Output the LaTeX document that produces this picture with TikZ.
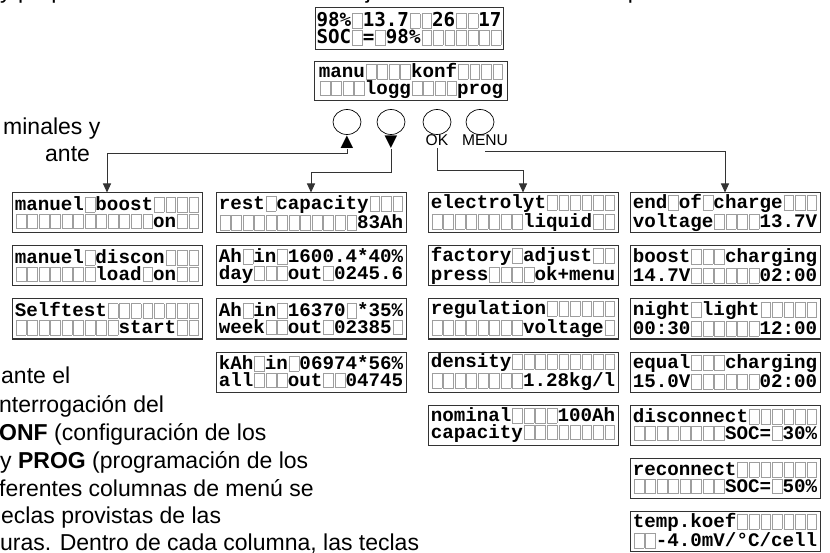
\documentclass[tikz,border=0pt]{standalone}
\usepackage{fontspec}
\setmainfont{Liberation Sans}
\newfontfamily\lcdfont{Liberation Mono}
\newfontfamily\lcdsans{DejaVu Sans Mono}
\newfontfamily\symfont{DejaVu Sans}
\usetikzlibrary{arrows.meta,shapes.geometric}

\definecolor{cellgray}{gray}{0.62}
\definecolor{framegray}{gray}{0.2}

% one empty cell of the display
\newcommand{\ec}{\rlap{\hspace{0.05em}\textcolor{cellgray}{\setlength{\fboxsep}{0pt}\setlength{\fboxrule}{0.6pt}\fbox{\rule[-0.06em]{0pt}{0.74em}\hspace{0.48em}}}}\phantom{0}}

\tikzset{
    lcd/.style={draw=framegray, line width=1pt, minimum width=190pt, minimum height=40pt,
        inner sep=1pt, align=left, font=\lcdfont\bfseries\fontsize{19.2}{16.5}\selectfont},
    button/.style={draw, ellipse, line width=0.7pt, minimum width=28pt, minimum height=25pt, inner sep=0pt},
    keysym/.style={anchor=base, inner sep=0pt, font=\symfont\fontsize{16.5}{16.5}\selectfont},
    keylabel/.style={anchor=base, inner sep=2pt, font=\fontsize{15.6}{16}\selectfont},
    arr/.style={-{Triangle[length=9pt,width=8pt]}, line width=1pt, black!80},
    body/.style={anchor=base west, inner sep=0pt, font=\fontsize{23}{27.7}\selectfont}
}

\begin{document}
\begin{tikzpicture}[x=1pt, y=-1pt]

    \useasboundingbox (0,0) rectangle (830,553);

    % Text around the picture
    \node[body] (txt1) at (0,-1) {y proporcionan información de la baja tensión de las baterías para el usuario del sistema.};
    \node[body] (txt2) at (3,135) {minales y};
    \node[body] (txt3) at (45,162) {ante};
    \node[body] (txt4) at (1,383) {ante el};
    \node[body] (txt5) at (-1,412) {nterrogación del};
    \node[body] (txt6) at (-1,440) {{\bfseries ONF} (configuración de los};
    \node[body] (txt7) at (0,468) {y {\bfseries PROG} (programación de los};
    \node[body] (txt8) at (-1,496) {ferentes columnas de menú se};
    \node[body] (txt9) at (1,523) {eclas provistas de las};
    \node[body] (txt10) at (0,550) {uras. Dentro de cada columna, las teclas};

    % Displays of the controller
    \node[lcd, font=\lcdsans\bfseries\fontsize{19.2}{16.5}\selectfont, minimum width=188pt, minimum height=42pt] (status) at (409,29)
        {98\%\ec 13.7\ec\ec 26\ec\ec 17\\SOC\ec=\ec 98\%\ec\ec\ec\ec\ec\ec\ec};
    \node[lcd, minimum width=193pt, minimum height=39pt] (menu) at (411,81)
        {manu\ec\ec\ec\ec konf\ec\ec\ec\ec\\\ec\ec\ec\ec logg\ec\ec\ec\ec prog};

    % Buttons
    \node[button] (bup) at (347,122) {};
    \node[button] (bdown) at (391,122) {};
    \node[button] (bok) at (437,122) {};
    \node[button] (bmenu) at (480,122) {};
    \node[keysym] (lup) at (347,147) {▲};
    \node[keysym] (ldown) at (391,147) {▼};
    \node[keylabel] (lok) at (437,146) {OK};
    \node[keylabel] (lmenu) at (485,146) {MENU};

    % Column manu
    \node[lcd] (boost) at (107,213) {manuel\ec boost\ec\ec\ec\ec\\\ec\ec\ec\ec\ec\ec\ec\ec\ec\ec\ec\ec on\ec\ec};
    \node[lcd] (discon) at (107,266) {manuel\ec discon\ec\ec\ec\\\ec\ec\ec\ec\ec\ec\ec load\ec on\ec\ec};
    \node[lcd] (selftest) at (107,319) {Selftest\ec\ec\ec\ec\ec\ec\ec\ec\\\ec\ec\ec\ec\ec\ec\ec\ec\ec start\ec\ec};

    % Column logg
    \node[lcd] (restcap) at (311,213) {rest\ec capacity\ec\ec\ec\\\ec\ec\ec\ec\ec\ec\ec\ec\ec\ec\ec\ec 83Ah};
    \node[lcd] (ahday) at (311,266) {Ah\ec in\ec 1600.4*40\%\\day\ec\ec\ec out\ec 0245.6};
    \node[lcd] (ahweek) at (311,319) {Ah\ec in\ec 16370\ec*35\%\\week\ec\ec out\ec 02385\ec};
    \node[lcd] (kahall) at (311,372) {kAh\ec in\ec 06974*56\%\\all\ec\ec\ec out\ec\ec 04745};

    % Column konf
    \node[lcd] (electro) at (523,213) {electrolyt\ec\ec\ec\ec\ec\ec\\\ec\ec\ec\ec\ec\ec\ec\ec liquid\ec\ec};
    \node[lcd] (factory) at (523,266) {factory\ec adjust\ec\ec\\press\ec\ec\ec\ec ok+menu};
    \node[lcd] (regul) at (523,319) {regulation\ec\ec\ec\ec\ec\ec\\\ec\ec\ec\ec\ec\ec\ec\ec voltage\ec};
    \node[lcd] (density) at (523,372) {density\ec\ec\ec\ec\ec\ec\ec\ec\ec\\\ec\ec\ec\ec\ec\ec\ec\ec 1.28kg/l};
    \node[lcd] (nominal) at (523,425) {nominal\ec\ec\ec\ec 100Ah\\capacity\ec\ec\ec\ec\ec\ec\ec\ec};

    % Column prog
    \node[lcd] (endchg) at (725,213) {end\ec of\ec charge\ec\ec\ec\\voltage\ec\ec\ec\ec 13.7V};
    \node[lcd] (boostchg) at (725,266) {boost\ec\ec\ec charging\\14.7V\ec\ec\ec\ec\ec\ec 02:00};
    \node[lcd] (night) at (725,319) {night\ec light\ec\ec\ec\ec\ec\\00:30\ec\ec\ec\ec\ec\ec 12:00};
    \node[lcd] (equal) at (725,372) {equal\ec\ec\ec charging\\15.0V\ec\ec\ec\ec\ec\ec 02:00};
    \node[lcd] (disc) at (725,425) {disconnect\ec\ec\ec\ec\ec\ec\\\ec\ec\ec\ec\ec\ec\ec\ec SOC=\ec 30\%};
    \node[lcd] (recon) at (725,478) {reconnect\ec\ec\ec\ec\ec\ec\ec\\\ec\ec\ec\ec\ec\ec\ec\ec SOC=\ec 50\%};
    \node[lcd] (tempk) at (725,531) {temp.koef\ec\ec\ec\ec\ec\ec\ec\\\ec\ec -4.0mV/°C/cell};

    % Arrows from the buttons to the columns
    \draw[arr] (lup.south) -- ++(0,4) -| (boost.north);
    \draw[arr] (ldown.south) -- ++(0,23) -| (restcap.north);
    \draw[arr] (lok.south) -- ++(0,22) -| (electro.north);
    \draw[arr] ([yshift=-3pt]lmenu.south) -| (endchg.north);

\end{tikzpicture}
\end{document}
